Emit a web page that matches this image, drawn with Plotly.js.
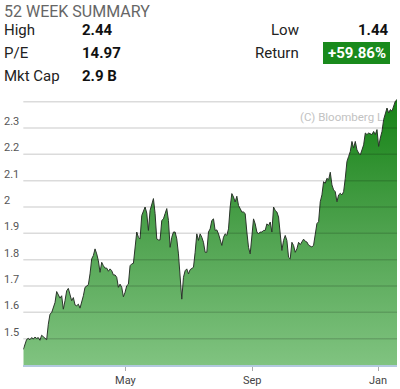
<!DOCTYPE html>
<html><head><meta charset="utf-8">
<script src="https://cdn.plot.ly/plotly-3.0.1.min.js"></script>
<style>html,body{margin:0;padding:0;background:#fff}#chart{width:400px;height:389px}</style>
</head><body><div id="chart"></div>
<script>
// ---- data ----
const startDate = '2017-01-22';
const stepMs = 139778000; // ~1.62 days between samples
const prices = [
1.459,1.478,1.497,1.501,1.496,1.504,1.499,1.506,1.501,1.504,1.494,1.513,1.506,1.501,1.496,
1.555,1.593,1.599,1.618,1.637,1.679,1.669,1.654,1.663,1.612,1.644,1.682,1.691,1.663,1.644,
1.656,1.628,1.625,1.631,1.616,1.637,1.663,1.695,1.701,1.705,1.746,1.803,1.816,1.841,1.822,
1.796,1.752,1.790,1.777,1.768,1.768,1.756,1.765,1.758,1.742,1.742,1.733,1.695,1.707,
1.695,1.659,1.676,1.701,1.707,1.777,1.784,1.786,1.860,1.905,1.885,1.879,1.968,1.981,2.000,
1.977,1.911,1.987,2.006,2.032,1.975,1.879,1.875,1.875,1.949,1.955,1.975,1.994,1.949,1.847,
1.885,1.905,1.905,1.879,1.822,1.733,1.650,1.733,1.758,1.765,1.746,1.762,1.765,1.771,1.828,
1.898,1.873,1.898,1.885,1.866,1.828,1.828,1.905,
1.917,1.949,1.955,1.911,1.913,1.898,1.879,1.854,1.885,1.898,1.892,1.917,2.000,2.051,2.038,
2.019,2.041,2.006,1.994,1.981,1.981,1.975,1.905,1.847,1.822,1.892,1.955,1.936,1.905,1.898,
1.905,1.905,1.911,1.911,1.936,1.930,1.943,1.905,2.000,1.987,1.981,1.962,1.885,1.835,1.873,
1.892,1.873,1.809,1.803,1.866,1.854,1.828,1.841,1.866,
1.857,1.867,1.878,1.870,1.867,1.855,1.852,1.848,1.855,1.893,1.937,1.944,2.020,2.046,2.096,
2.090,2.109,2.103,2.132,2.084,2.065,2.058,2.020,2.046,2.052,2.046,2.058,2.109,2.173,2.192,
2.211,2.249,2.224,2.249,2.217,2.205,2.198,2.217,2.236,2.281,2.275,2.281,2.277,2.275,2.287,
2.275,2.294,2.230,2.262,2.287,2.332,2.351,2.376,2.357,2.370,2.364,2.383,2.402,2.408
];
const yLabelTicks = [1.5,1.6,1.7,1.8,1.9,2.0,2.1,2.2,2.3];
const gridTicks = [1.5,1.6,1.7,1.8,1.9,2.0,2.1,2.2,2.3,2.4];
const yRange = [1.4, 2.414];
const summaryLeft = [['High','2.44'],['P/E','14.97'],['Mkt Cap','2.9 B']];
const summaryRight = [['Low','1.44'],['Return','+59.86%']];
const headerTitle = '52 WEEK SUMMARY';
const watermark = '(C) Bloomberg L.P.';

// ---- layout helpers (pixel -> paper / domain) ----
const W = 397, TOP = 98, BOT = 365, LEFT = 23.3;
const px = x => x / W;
const py = y => (BOT - y) / (BOT - TOP);
const dx = x => (x - LEFT) / (W - LEFT);
const FONT = 'Roboto, "Noto Sans", Arial, sans-serif';

const rowY = [30.5, 53, 76];
const annotations = [];
annotations.push({text: headerTitle, xref:'paper', yref:'paper', x: px(2), y: py(11.5),
  xanchor:'left', yanchor:'middle', showarrow:false, font:{family:FONT, size:16, color:'#666'}});
summaryLeft.forEach((r,i) => {
  annotations.push({text:r[0], xref:'paper', yref:'paper', x:px(2), y:py(rowY[i]), xanchor:'left', yanchor:'middle',
    showarrow:false, font:{family:FONT, size:15, color:'#222'}});
  annotations.push({text:'<b>'+r[1]+'</b>', xref:'paper', yref:'paper', x:px(80), y:py(rowY[i]), xanchor:'left', yanchor:'middle',
    showarrow:false, font:{family:FONT, size:15, color:'#111'}});
});
summaryRight.forEach((r,i) => {
  annotations.push({text:r[0], xref:'paper', yref:'paper', x:px(301), y:py(rowY[i]), xanchor:'right', yanchor:'middle',
    showarrow:false, font:{family:FONT, size:15, color:'#222'}});
});
annotations.push({text:'<b>'+summaryRight[0][1]+'</b>', xref:'paper', yref:'paper', x:px(391), y:py(rowY[0]), xanchor:'right', yanchor:'middle',
  showarrow:false, font:{family:FONT, size:15, color:'#111'}});
annotations.push({text:'<b>'+summaryRight[1][1]+'</b>', xref:'paper', yref:'paper', x:px(356.5), y:py(rowY[1]), xanchor:'center', yanchor:'middle',
  showarrow:false, font:{family:FONT, size:15, color:'#fff'}});

const shapes = [];
// watermark drawn below the trace, so the area fill covers its end as in the reference
shapes.push({type:'rect', xref:'x domain', yref:'y domain', x0:dx(295), x1:1, y0:(BOT-123)/(BOT-TOP), y1:(BOT-110)/(BOT-TOP),
  layer:'below', fillcolor:'rgba(0,0,0,0)', line:{width:0},
  label:{text:watermark, textposition:'middle left', padding:2, font:{family:FONT, size:11.5, color:'#c2c2c2'}}});
gridTicks.forEach(t => shapes.push({type:'line', xref:'x domain', yref:'y', x0:0, x1:1, y0:t, y1:t,
  layer:'above', line:{color:'rgba(0,0,0,0.14)', width:1.5}}));
shapes.push({type:'rect', xref:'paper', yref:'paper', x0:px(323), x1:px(390), y0:py(64), y1:py(42),
  fillcolor:'#198a1c', line:{width:0}, layer:'above'});

const traces = [
  {type:'scatter', mode:'lines', x0:startDate, dx:stepMs, y:prices, xaxis:'x', yaxis:'y',
   line:{color:'#2b352b', width:1}, fill:'tozeroy',
   fillgradient:{type:'vertical', start:yRange[0], stop:2.42,
     colorscale:[[0,'rgb(128,195,128)'],[0.5,'rgb(78,162,78)'],[1,'rgb(20,130,20)']]},
   hoverinfo:'skip', showlegend:false},
  {type:'scatter', mode:'lines', x0:startDate, dx:stepMs, y:prices, xaxis:'x', yaxis:'y2',
   line:{width:0, color:'rgba(0,0,0,0)'}, hoverinfo:'skip', showlegend:false}
];

const layout = {
  width:400, height:389,
  margin:{l:0, r:3, t:TOP, b:389-BOT, pad:0},
  paper_bgcolor:'#fff', plot_bgcolor:'#fff',
  font:{family:FONT},
  showlegend:false,
  xaxis:{domain:[px(LEFT),1], type:'date', autorange:true,
    tick0:'2017-01-01', dtick:'M4', tickformat:'%b',
    ticks:'outside', ticklen:4, tickcolor:'#aaa', tickwidth:1,
    showline:true, linecolor:'#b2c9de', linewidth:2,
    showgrid:false, zeroline:false, layer:'above traces',
    tickfont:{family:FONT, size:11, color:'#444'}, ticklabelstandoff:0},
  yaxis:{range:yRange, showgrid:false, zeroline:false, showline:false, showticklabels:false, ticks:''},
  yaxis2:{range:yRange, overlaying:'y', anchor:'free', position:0, side:'right',
    tickvals:yLabelTicks, ticktext:yLabelTicks.map(v=>String(v)),
    showgrid:false, zeroline:false, showline:false, ticks:'',
    tickfont:{family:FONT, size:11, color:'#555'}, ticklabelshift:-7, ticklabelstandoff:3},
  annotations:annotations,
  shapes:shapes
};
Plotly.newPlot('chart', traces, layout, {staticPlot:true, displayModeBar:false});
</script>
</body></html>
